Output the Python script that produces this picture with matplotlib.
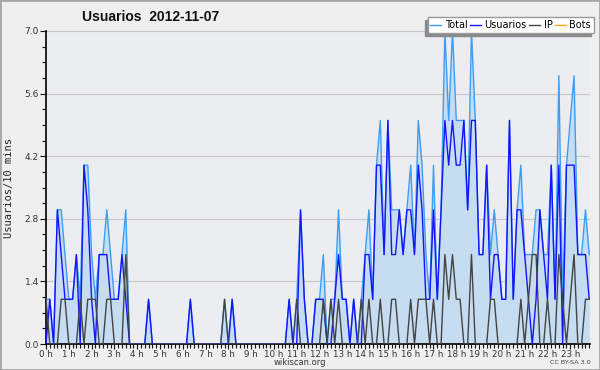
import matplotlib
matplotlib.use("Agg")
import matplotlib.pyplot as plt
from matplotlib.patches import Rectangle
from matplotlib.ticker import MultipleLocator

# 10-minute slots, 6 per hour (one row per hour)
usuarios = [
    0, 1, 0, 3, 2, 1,
    1, 1, 2, 0, 4, 3,
    1, 0, 2, 2, 2, 1,
    1, 1, 2, 1, 0, 0,
    0, 0, 0, 1, 0, 0,
    0, 0, 0, 0, 0, 0,
    0, 0, 1, 0, 0, 0,
    0, 0, 0, 0, 0, 0,
    0, 1, 0, 0, 0, 0,
    0, 0, 0, 0, 0, 0,
    0, 0, 0, 0, 1, 0,
    0, 3, 1, 0, 0, 1,
    1, 1, 0, 0, 1, 2,
    1, 1, 0, 1, 0, 0,
    2, 2, 1, 4, 4, 2,
    5, 2, 2, 3, 2, 3,
    3, 2, 4, 3, 1, 1,
    3, 1, 3, 5, 4, 5,
    4, 4, 5, 3, 5, 5,
    2, 2, 4, 1, 2, 2,
    1, 1, 5, 1, 3, 3,
    2, 1, 0, 1, 3, 2,
    1, 4, 1, 4, 0, 4,
    4, 4, 2, 2, 2, 1,
]
ip = [
    1, 0, 0, 0, 1, 1,
    0, 0, 0, 1, 0, 1,
    1, 1, 0, 0, 1, 1,
    0, 0, 0, 2, 0, 0,
    0, 0, 0, 0, 0, 0,
    0, 0, 0, 0, 0, 0,
    0, 0, 0, 0, 0, 0,
    0, 0, 0, 0, 0, 1,
    0, 0, 0, 0, 0, 0,
    0, 0, 0, 0, 0, 0,
    0, 0, 0, 0, 0, 0,
    1, 0, 0, 0, 0, 0,
    0, 1, 0, 1, 0, 1,
    0, 0, 0, 0, 0, 1,
    0, 1, 0, 0, 1, 0,
    0, 1, 1, 0, 0, 0,
    1, 0, 1, 1, 1, 0,
    1, 0, 0, 2, 1, 2,
    1, 1, 0, 0, 2, 0,
    0, 0, 0, 1, 1, 0,
    0, 0, 0, 0, 0, 1,
    0, 1, 2, 2, 0, 0,
    1, 0, 0, 2, 1, 0,
    1, 2, 0, 0, 1, 1,
]
total = [
    1, 1, 0, 3, 3, 2,
    1, 1, 2, 1, 4, 4,
    2, 1, 2, 2, 3, 2,
    1, 1, 2, 3, 0, 0,
    0, 0, 0, 1, 0, 0,
    0, 0, 0, 0, 0, 0,
    0, 0, 1, 0, 0, 0,
    0, 0, 0, 0, 0, 1,
    0, 1, 0, 0, 0, 0,
    0, 0, 0, 0, 0, 0,
    0, 0, 0, 0, 1, 0,
    1, 3, 1, 0, 0, 1,
    1, 2, 0, 1, 1, 3,
    1, 1, 0, 1, 0, 1,
    2, 3, 1, 4, 5, 2,
    5, 3, 3, 3, 2, 3,
    4, 2, 5, 4, 2, 1,
    4, 1, 3, 7, 5, 7,
    5, 5, 5, 3, 7, 5,
    2, 2, 4, 2, 3, 2,
    1, 1, 5, 1, 3, 4,
    2, 2, 2, 3, 3, 2,
    2, 4, 1, 6, 1, 4,
    5, 6, 2, 2, 3, 2,
]
bots = [0] * 144
hour_labels = ["%d h" % h for h in range(24)]

x = list(range(len(total)))

fig = plt.figure(figsize=(6, 3.7), dpi=100, facecolor="#efefef")
ax = fig.add_axes([46 / 600, 1 - 344 / 370, 544 / 600, 313 / 370])
ax.set_facecolor("#ecedf0")

ax.fill_between(x, total, 0, color="#c6dcf0", lw=0, zorder=1)
ax.plot(x, bots, color="#ffa500", lw=1, zorder=2, label="Bots")
ax.plot(x, total, color="#3d9df5", lw=1, zorder=3, label="Total")
ax.plot(x, usuarios, color="#1414ff", lw=1, zorder=4, label="Usuarios")
ax.plot(x, ip, color="#444444", lw=1, zorder=5, label="IP")

ax.set_xlim(0, 143.2)
ax.set_ylim(0, 7)
ax.set_yticks([0, 1.4, 2.8, 4.2, 5.6, 7.0])
ax.set_yticklabels(["0.0", "1.4", "2.8", "4.2", "5.6", "7.0"])
ax.yaxis.set_minor_locator(MultipleLocator(0.35))
ax.set_xticks(range(0, 144, 6))
ax.set_xticklabels(hour_labels)
ax.xaxis.set_minor_locator(MultipleLocator(1))
ax.tick_params(axis="y", which="major", labelsize=6.5, colors="#111", labelcolor="#333",
               length=4, width=0.8, pad=1)
ax.tick_params(axis="x", which="major", labelsize=6.3, colors="#111", labelcolor="#333",
               length=3.5, width=0.8, pad=0.5)
ax.tick_params(axis="both", which="minor", length=2.8, width=0.8, colors="#111")
ax.grid(axis="y", color="#c8c8c8", lw=0.8)
ax.set_axisbelow(True)
for s in ["top", "right"]:
    ax.spines[s].set_visible(False)
ax.spines["left"].set_linewidth(1.2)
ax.spines["bottom"].set_linewidth(1.2)

fig.text(151 / 600, 1 - 17 / 370, "Usuarios  2012-11-07", ha="center", va="center",
         fontsize=10, fontweight="bold", family="Liberation Sans", color="#111")
fig.text(9 / 600, 1 - 188 / 370, "Usuarios/10 mins", rotation=90, ha="center", va="center",
         fontsize=7.5, family="DejaVu Sans Mono", color="#222")
fig.text(300 / 600, 1 - 362.5 / 370, "wikiscan.org", ha="center", va="center", fontsize=6,
         color="#333")
fig.text(591 / 600, 1 - 363 / 370, "CC BY-SA 3.0", ha="right", va="center", fontsize=4.6,
         color="#444")

handles, labels = ax.get_legend_handles_labels()
order = [1, 2, 3, 0]
leg = fig.legend([handles[i] for i in order], [labels[i] for i in order],
                 loc="upper right", bbox_to_anchor=(594 / 600, 1 - 17 / 370), ncol=4,
                 fontsize=7, frameon=True, fancybox=False, edgecolor="#999999",
                 framealpha=1, handlelength=1.1, handletextpad=0.35, columnspacing=0.3,
                 borderpad=0.3, borderaxespad=0)
leg.set_zorder(9)

# grey shadow offset to the lower left of the legend box
fig.canvas.draw()
bb = leg.get_window_extent()
fig.patches.append(Rectangle(((bb.x0 - 3) / 600, (bb.y0 - 3) / 370), bb.width / 600,
                             bb.height / 370, transform=fig.transFigure, color="#8a8a8a",
                             zorder=8))

fig.patches.append(Rectangle((0, 0), 1, 1, transform=fig.transFigure, fill=False,
                             edgecolor="#a8a8a8", lw=2))

fig.savefig("out.png", dpi=100, facecolor=fig.get_facecolor())
